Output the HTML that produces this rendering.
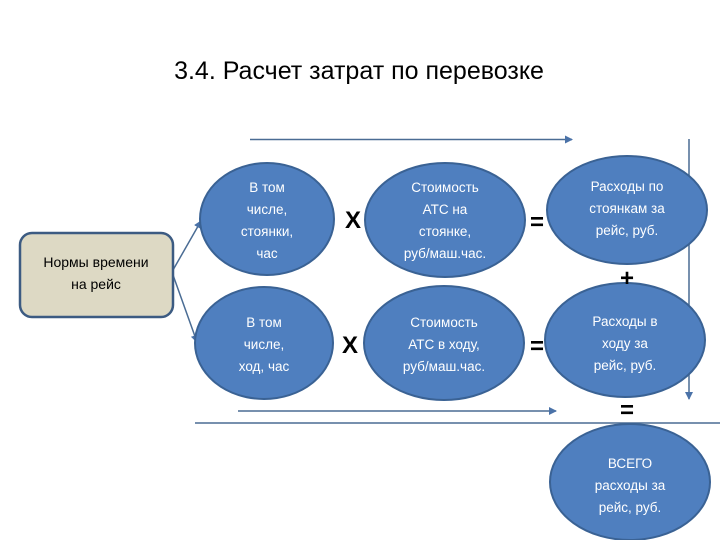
<!DOCTYPE html>
<html><head><meta charset="utf-8"><style>
body{margin:0;background:#fff;}
svg text{font-family:"Liberation Sans",sans-serif;}
</style></head><body>
<svg width="720" height="540" viewBox="0 0 720 540" xmlns="http://www.w3.org/2000/svg">
<defs><marker id="a" markerWidth="8" markerHeight="8" refX="7" refY="4" orient="auto" markerUnits="userSpaceOnUse"><path d="M0,0 L8,4 L0,8 z" fill="#4a72a8"/></marker></defs>
<text x="359" y="79" font-size="25" text-anchor="middle" fill="#000">3.4. Расчет затрат по перевозке</text>
<g stroke="#4a6c94" stroke-width="1.5" fill="none">
<line x1="250" y1="139.5" x2="572" y2="139.5" marker-end="url(#a)"/>
<line x1="689" y1="139" x2="689" y2="399" marker-end="url(#a)"/>
<line x1="238" y1="411" x2="556" y2="411" marker-end="url(#a)"/>
<line x1="195" y1="423" x2="720" y2="423"/>
<line x1="173" y1="270" x2="201" y2="221" marker-end="url(#a)"/>
<line x1="173" y1="275" x2="197" y2="342" marker-end="url(#a)"/>
</g>
<rect x="20" y="233" width="153" height="84" rx="12" fill="#ddd9c4" stroke="#3c5b82" stroke-width="2.5"/>
<text font-size="14" text-anchor="middle" fill="#000"><tspan x="96" y="267">Нормы времени</tspan><tspan x="96" y="289">на рейс</tspan></text>
<g fill="#4f7fbf" stroke="#3a6294" stroke-width="2">
<ellipse cx="267" cy="219" rx="67" ry="56"/>
<ellipse cx="264" cy="343" rx="69" ry="56"/>
<ellipse cx="445" cy="220" rx="80" ry="57"/>
<ellipse cx="444" cy="343" rx="80" ry="57"/>
<ellipse cx="627" cy="210" rx="80" ry="54"/>
<ellipse cx="625" cy="340" rx="80" ry="57"/>
<ellipse cx="630" cy="482" rx="80" ry="58"/>
</g>
<g font-size="13.5" text-anchor="middle" fill="#fff">
<text><tspan x="267" y="192">В том</tspan><tspan x="267" y="214">числе,</tspan><tspan x="267" y="236">стоянки,</tspan><tspan x="267" y="258">час</tspan></text>
<text><tspan x="264" y="327">В том</tspan><tspan x="264" y="349">числе,</tspan><tspan x="264" y="371">ход, час</tspan></text>
<text><tspan x="445" y="192">Стоимость</tspan><tspan x="445" y="214">АТС на</tspan><tspan x="445" y="236">стоянке,</tspan><tspan x="445" y="258">руб/маш.час.</tspan></text>
<text><tspan x="444" y="327">Стоимость</tspan><tspan x="444" y="349">АТС в ходу,</tspan><tspan x="444" y="371">руб/маш.час.</tspan></text>
<text><tspan x="627" y="191">Расходы по</tspan><tspan x="627" y="213">стоянкам за</tspan><tspan x="627" y="235">рейс,  руб.</tspan></text>
<text><tspan x="625" y="326">Расходы в</tspan><tspan x="625" y="348">ходу за</tspan><tspan x="625" y="370">рейс, руб.</tspan></text>
<text><tspan x="630" y="468">ВСЕГО</tspan><tspan x="630" y="490">расходы за</tspan><tspan x="630" y="512">рейс, руб.</tspan></text>
</g>
<g font-size="24" text-anchor="middle" fill="#000" font-weight="bold">
<text x="353" y="228">X</text>
<text x="350" y="353">X</text>
<text x="537" y="230">=</text>
<text x="537" y="354">=</text>
<text x="627" y="286">+</text>
<text x="627" y="418">=</text>
</g>
</svg>
</body></html>
